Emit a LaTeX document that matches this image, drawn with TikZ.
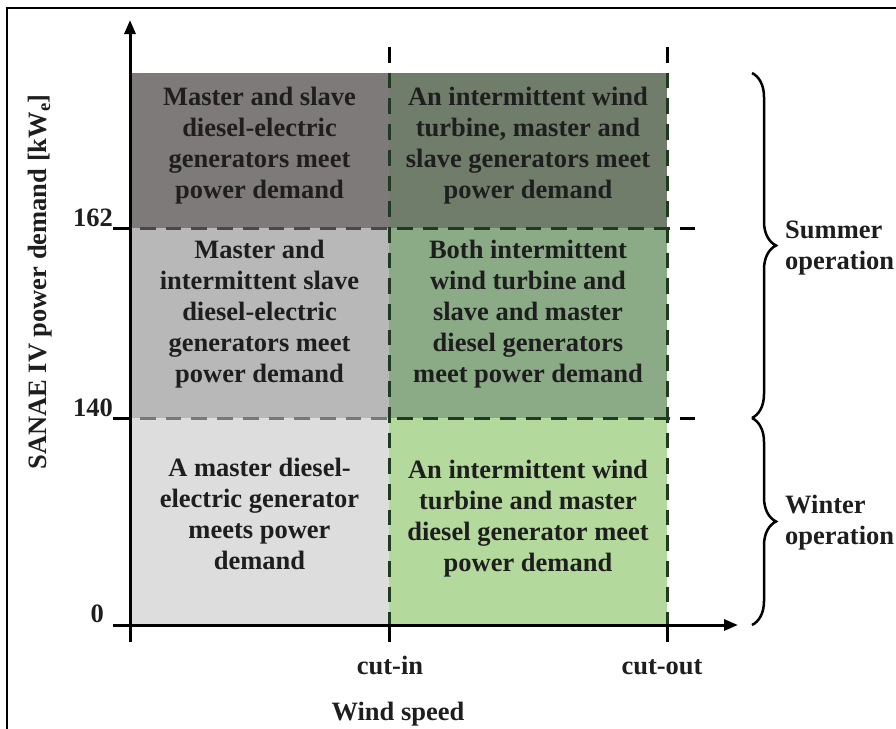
\documentclass[tikz,border=0pt]{standalone}
\usepackage{fontspec}
\setmainfont{Liberation Serif}
\usetikzlibrary{arrows.meta,decorations.pathreplacing}
\definecolor{ink}{RGB}{30,30,30}
\definecolor{cellTL}{RGB}{127,122,122}
\definecolor{cellML}{RGB}{184,184,184}
\definecolor{cellBL}{RGB}{222,221,221}
\definecolor{cellTR}{RGB}{112,125,106}
\definecolor{cellMR}{RGB}{139,171,134}
\definecolor{cellBR}{RGB}{180,217,156}
\definecolor{dashgreen}{RGB}{32,58,32}
\definecolor{dashdark}{RGB}{72,72,72}
\definecolor{dashmid}{RGB}{120,120,120}
\begin{document}
\begin{tikzpicture}[x=1pt,y=-1pt,
  celltext/.style={font=\bfseries\fontsize{26.5}{31}\selectfont, align=center, text=ink, inner sep=0pt},
  lbl/.style={font=\bfseries\fontsize{26.5}{31}\selectfont, text=ink, inner sep=0pt},
  axisline/.style={line width=3pt, black, -{Triangle[length=14pt,width=11pt]}},
  tickline/.style={line width=3pt, black},
  gridline/.style={line width=3pt, dash pattern=on 15.7pt off 10pt},
  bracestyle/.style={decorate, decoration={brace, amplitude=24pt}, line width=2.5pt, black}
]
\useasboundingbox (0,0) rectangle (896,728);

% outer frame
\draw[line width=2pt] (7,740) -- (7,8) -- (910,8);

% key positions
\coordinate (origin) at (130,625);
\coordinate (cutinpt) at (389,625);
\coordinate (cutoutpt) at (667,625);

% shaded operating regions
\fill[cellBL] (130,418) rectangle (389,625);
\fill[cellML] (130,228) rectangle (389,418);
\fill[cellTL] (130,73) rectangle (389,228);
\fill[cellBR] (389,418) rectangle (667,625);
\fill[cellMR] (389,228) rectangle (667,418);
\fill[cellTR] (389,73) rectangle (667,228);

% dashed boundaries
\draw[gridline, black] (389,47) -- (cutinpt);
\draw[gridline, black] (667,47) -- (cutoutpt);
\draw[gridline, black] (140,228) -- (696,228);
\draw[gridline, black] (140,418) -- (696,418);
\begin{scope}
  \clip (387,73) rectangle (672,625);
  \draw[gridline, dashgreen] (389,47) -- (cutinpt);
  \draw[gridline, dashgreen] (667,47) -- (cutoutpt);
  \draw[gridline, dashgreen] (140,228) -- (696,228);
  \draw[gridline, dashgreen] (140,418) -- (696,418);
\end{scope}
\begin{scope}
  \clip (130,73) rectangle (387,323);
  \draw[gridline, dashdark] (140,228) -- (696,228);
\end{scope}
\begin{scope}
  \clip (130,323) rectangle (387,625);
  \draw[gridline, dashmid] (140,418) -- (696,418);
\end{scope}

% axes and ticks
\draw[axisline] (130,642) -- (130,20);
\draw[axisline] (113,625) -- (738,625);
\draw[tickline] (cutinpt) -- (389,642);
\draw[tickline] (cutoutpt) -- (667,642);
\draw[tickline] (113,228) -- (130,228);
\draw[tickline] (113,418) -- (130,418);

% tick labels
\node[lbl, anchor=base east] (v162) at (113,226) {162};
\node[lbl, anchor=base east] (v140) at (113,416) {140};
\node[lbl, anchor=base east] (v0) at (104,622) {0};
\node[lbl, anchor=base] (cutin) at (390,674) {cut-in};
\node[lbl, anchor=base] (cutout) at (662,674) {cut-out};
\node[lbl, anchor=base] (xlab) at (398,720) {Wind speed};
\node[lbl, rotate=90] (ylab) at (40,282) {SANAE IV power demand [kW\textsubscript{e}]};

% region descriptions
\node[celltext] (tl) at (259.5,146) {Master and slave\\diesel-electric\\generators meet\\power demand};
\node[celltext] (tr) at (528,146) {An intermittent wind\\turbine, master and\\slave generators meet\\power demand};
\node[celltext] (ml) at (259.5,314) {Master and\\intermittent slave\\diesel-electric\\generators meet\\power demand};
\node[celltext] (mr) at (528,314) {Both intermittent\\wind turbine and\\slave and master\\diesel generators\\meet power demand};
\node[celltext] (bl) at (259.5,514) {A master diesel-\\electric generator\\meets power\\demand};
\node[celltext] (br) at (528,519) {An intermittent wind\\turbine and master\\diesel generator meet\\power demand};

% seasonal braces
\draw[bracestyle] (752,73) -- (752,418);
\draw[bracestyle] (752,418) -- (752,625);
\node[lbl, align=left, anchor=west] (summer) at (785,248) {Summer\\operation};
\node[lbl, align=left, anchor=west] (winter) at (785,523) {Winter\\operation};
\end{tikzpicture}
\end{document}
